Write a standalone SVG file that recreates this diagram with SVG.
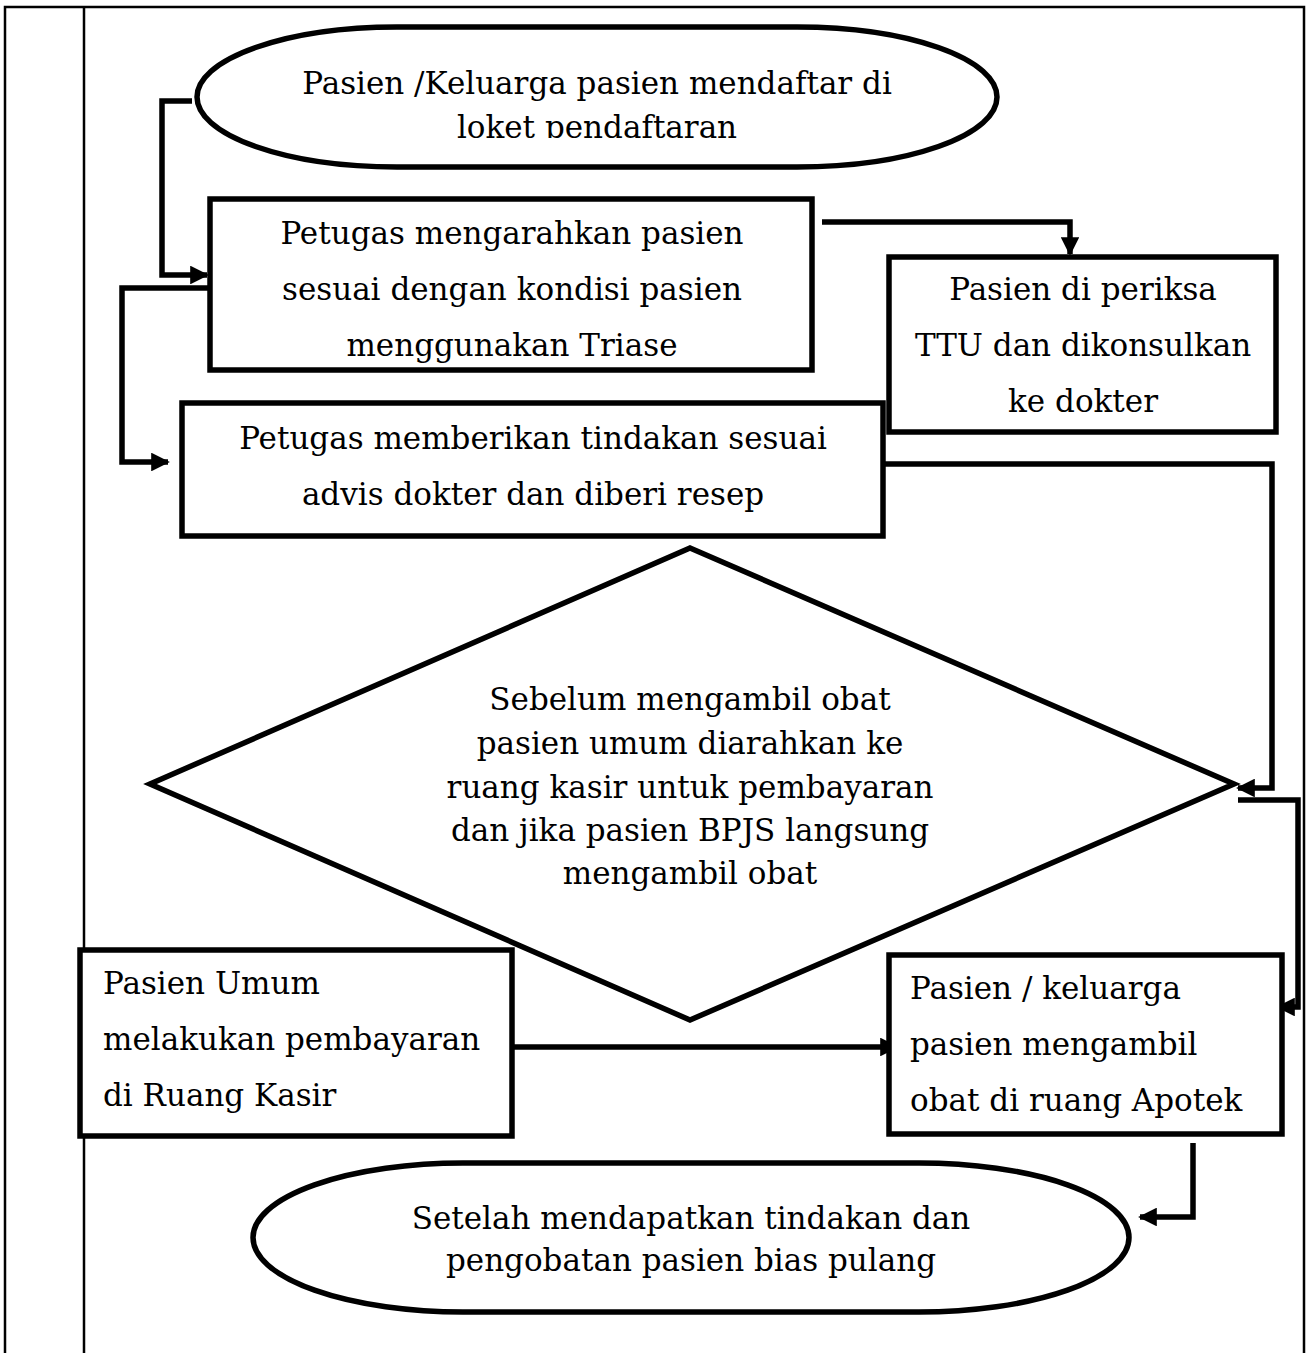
<svg xmlns="http://www.w3.org/2000/svg" width="1308" height="1353" viewBox="0 0 1308 1353">
<defs>
<style>
.tbl{stroke:#000;stroke-width:2.5;fill:none}
.shape{fill:#fff;stroke:#000;stroke-width:5.5}
.conn{fill:none;stroke:#000;stroke-width:5.5;stroke-linejoin:miter}
.t{font-family:"DejaVu Serif",serif;font-size:31px;fill:#000}
.c{text-anchor:middle}
</style>
<marker id="ah" viewBox="0 0 10 10" refX="9" refY="5" markerWidth="3.4" markerHeight="3.4" orient="auto" markerUnits="strokeWidth">
<path d="M0,0 L10,5 L0,10 z" fill="#000"/>
</marker>
<clipPath id="clipTop"><rect x="0" y="0" width="1308" height="138"/></clipPath>
</defs>
<rect width="1308" height="1353" fill="#fff"/>
<g id="table">
<path class="tbl" d="M5,1353 V7 H1304 V1353"/>
<path class="tbl" d="M84,7 V1353"/>
</g>
<g id="connectors">
<path class="conn" d="M192,101 H162 V275 H207" marker-end="url(#ah)"/>
<path class="conn" d="M208,288 H122 V462 H168" marker-end="url(#ah)"/>
<path class="conn" d="M822,222 H1070 V254" marker-end="url(#ah)"/>
<path class="conn" d="M883,464 H1272 V788 H1238" marker-end="url(#ah)"/>
<path class="conn" d="M1238,800 H1298 V1007 H1278" marker-end="url(#ah)"/>
<path class="conn" d="M512,1047 H897" marker-end="url(#ah)"/>
<path class="conn" d="M1193,1143 V1217 H1140" marker-end="url(#ah)"/>
</g>
<g id="start">
<rect class="shape" x="197" y="27" width="800" height="140" rx="200" ry="70"/>
<g clip-path="url(#clipTop)">
<text class="t c" x="597" y="94">Pasien /Keluarga pasien mendaftar di</text>
<text class="t c" x="597" y="138">loket pendaftaran</text>
</g>
</g>
<g id="triase">
<rect class="shape" x="210" y="199" width="602" height="171"/>
<text class="t c" x="512" y="244">Petugas mengarahkan pasien</text>
<text class="t c" x="512" y="300">sesuai dengan kondisi pasien</text>
<text class="t c" x="512" y="356">menggunakan Triase</text>
</g>
<g id="ttu">
<rect class="shape" x="889" y="257" width="387" height="175"/>
<text class="t c" x="1083" y="300">Pasien di periksa</text>
<text class="t c" x="1083" y="356">TTU dan dikonsulkan</text>
<text class="t c" x="1083" y="412">ke dokter</text>
</g>
<g id="tindakan">
<rect class="shape" x="182" y="403" width="701" height="133"/>
<text class="t c" x="533" y="449">Petugas memberikan tindakan sesuai</text>
<text class="t c" x="533" y="505">advis dokter dan diberi resep</text>
</g>
<g id="decision">
<polygon class="shape" points="690,548 1234,784 690,1020 150,784"/>
<text class="t c" x="690" y="710">Sebelum mengambil obat</text>
<text class="t c" x="690" y="754">pasien umum diarahkan ke</text>
<text class="t c" x="690" y="798">ruang kasir untuk pembayaran</text>
<text class="t c" x="690" y="841">dan jika pasien BPJS langsung</text>
<text class="t c" x="690" y="884">mengambil obat</text>
</g>
<g id="kasir">
<rect class="shape" x="80" y="950" width="432" height="186"/>
<text class="t" x="103" y="994">Pasien Umum</text>
<text class="t" x="103" y="1050">melakukan pembayaran</text>
<text class="t" x="103" y="1106">di Ruang Kasir</text>
</g>
<g id="apotek">
<rect class="shape" x="889" y="955" width="393" height="179"/>
<text class="t" x="910" y="999">Pasien / keluarga</text>
<text class="t" x="910" y="1055">pasien mengambil</text>
<text class="t" x="910" y="1111">obat di ruang Apotek</text>
</g>
<g id="end">
<rect class="shape" x="253" y="1163" width="876" height="149" rx="210" ry="74.5"/>
<text class="t c" x="691" y="1229">Setelah mendapatkan tindakan dan</text>
<text class="t c" x="691" y="1271">pengobatan pasien bias pulang</text>
</g>
</svg>
